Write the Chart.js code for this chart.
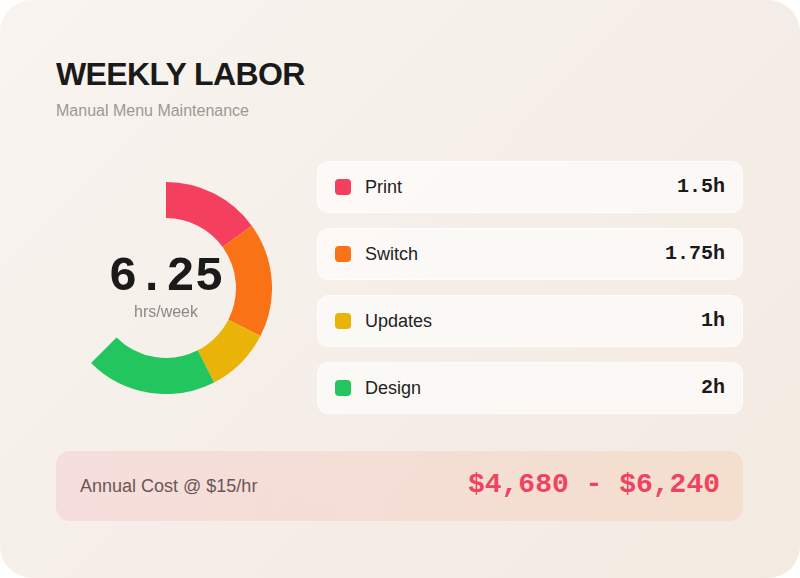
<!DOCTYPE html>
<html>
<head>
<meta charset="utf-8">
<script src="https://cdn.jsdelivr.net/npm/chart.js@4.4.0/dist/chart.umd.min.js"></script>
<style>
  html, body { margin: 0; padding: 0; background: #ffffff; }
  .card {
    position: relative; width: 800px; height: 578px; border-radius: 32px; overflow: hidden;
    background: linear-gradient(135deg, #f9f4f0 0%, #f5eee8 55%, #f3eae1 100%);
    font-family: "Liberation Sans", Arial, sans-serif;
  }
  .title {
    position: absolute; left: 56px; top: 56px; margin: 0;
    font-size: 32px; font-weight: 700; letter-spacing: -0.6px; color: #1a1a1a; line-height: 36px;
  }
  .subtitle { position: absolute; left: 56px; top: 102px; font-size: 16px; color: #9d9894; line-height: 18px; }
  .chartBox { position: absolute; left: 60px; top: 182px; width: 212px; height: 212px; }
  .centerVal {
    position: absolute; left: 66px; width: 200px; top: 259px; text-align: center;
    font-family: "Liberation Mono", "Courier New", monospace; font-weight: 700; font-size: 48px;
    line-height: 36px; color: #1a1a1a;
  }
  .centerLbl { position: absolute; left: 66px; width: 200px; top: 304px; text-align: center; font-size: 16px; color: #8c8884; line-height: 16px; }
  .row {
    position: absolute; left: 317px; width: 424px; height: 50px; border-radius: 12px;
    background: rgba(255, 255, 255, 0.62); border: 1px solid rgba(255, 255, 255, 0.7);
  }
  .dot { position: absolute; left: 17px; top: 17px; width: 16px; height: 16px; border-radius: 4px; }
  .lbl { position: absolute; left: 47px; top: 14px; font-size: 18px; line-height: 22px; color: #222; }
  .val {
    position: absolute; right: 17px; top: 13px; font-size: 20px; line-height: 24px; font-weight: 700; color: #1a1a1a;
    font-family: "Liberation Mono", "Courier New", monospace;
  }
  .cost {
    position: absolute; left: 56px; top: 451px; width: 687px; height: 70px; border-radius: 14px;
    background: linear-gradient(90deg, rgba(244, 63, 94, 0.1), rgba(249, 115, 22, 0.1));
  }
  .costLbl { position: absolute; left: 24px; top: 24px; font-size: 18px; line-height: 22px; color: #6b5656; }
  .costVal {
    position: absolute; right: 23px; top: 17px; font-size: 28px; line-height: 34px; font-weight: 700; color: #ee4461;
    font-family: "Liberation Mono", "Courier New", monospace;
  }
</style>
</head>
<body>
<div class="card">
  <h1 class="title">WEEKLY LABOR</h1>
  <div class="subtitle">Manual Menu Maintenance</div>
  <div class="chartBox"><canvas id="chart"></canvas></div>
  <div class="centerVal" id="totalVal"></div>
  <div class="centerLbl">hrs/week</div>
  <div id="rows"></div>
  <div class="cost">
    <div class="costLbl" id="costLbl"></div>
    <div class="costVal" id="costVal"></div>
  </div>
</div>
<script>
  const categories = ["Print", "Switch", "Updates", "Design"];
  const hours = [1.5, 1.75, 1, 2];
  const colors = ["#f43f5e", "#f97316", "#eab308", "#22c55e"];
  const gaugeMax = 10; // ring is drawn against a 10 hr scale
  const totalLabel = "6.25";
  const costLabel = "Annual Cost @ $15/hr";
  const costRange = "$4,680 - $6,240";
  const rowTops = [161, 228, 295, 362];

  document.getElementById("totalVal").textContent = totalLabel;
  document.getElementById("costLbl").textContent = costLabel;
  document.getElementById("costVal").textContent = costRange;

  const rows = document.getElementById("rows");
  categories.forEach((name, i) => {
    const row = document.createElement("div");
    row.className = "row";
    row.style.top = rowTops[i] + "px";
    row.innerHTML = `<div class="dot" style="background:${colors[i]}"></div>` +
      `<div class="lbl">${name}</div><div class="val">${hours[i]}h</div>`;
    rows.appendChild(row);
  });

  const used = hours.reduce((a, b) => a + b, 0);
  new Chart(document.getElementById("chart"), {
    type: "doughnut",
    data: {
      labels: [...categories, ""],
      datasets: [{
        data: [...hours, gaugeMax - used],
        backgroundColor: [...colors, "rgba(0,0,0,0)"],
        borderWidth: 0,
        hoverOffset: 0
      }]
    },
    options: {
      responsive: true,
      maintainAspectRatio: false,
      animation: false,
      cutout: "66%",
      events: [],
      plugins: { legend: { display: false }, tooltip: { enabled: false } }
    }
  });
</script>
</body>
</html>
